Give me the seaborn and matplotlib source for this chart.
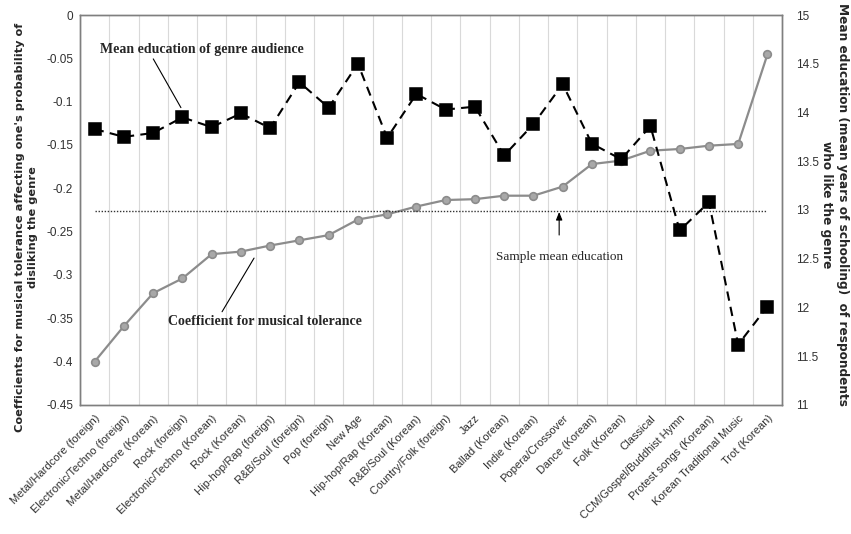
"""Musical tolerance coefficients vs. mean education of genre audience."""

import numpy as np
import pandas as pd
import seaborn as sns
import matplotlib.pyplot as plt

genres = [
    "Metal/Hardcore (foreign)", "Electronic/Techno (foreign)", "Metal/Hardcore (Korean)",
    "Rock (foreign)", "Electronic/Techno (Korean)", "Rock (Korean)",
    "Hip-hop/Rap (foreign)", "R&B/Soul (foreign)", "Pop (foreign)", "New Age",
    "Hip-hop/Rap (Korean)", "R&B/Soul (Korean)", "Country/Folk (foreign)", "Jazz",
    "Ballad (Korean)", "Indie (Korean)", "Popera/Crossover", "Dance (Korean)",
    "Folk (Korean)", "Classical", "CCM/Gospel/Buddhist Hymn", "Protest songs (Korean)",
    "Korean Traditional Music", "Trot (Korean)",
]
coef = [
    -0.400, -0.359, -0.321, -0.304, -0.276, -0.273, -0.266, -0.260, -0.254, -0.236,
    -0.230, -0.221, -0.2135, -0.2125, -0.2085, -0.2085, -0.198, -0.172, -0.168,
    -0.1566, -0.1546, -0.1508, -0.1488, -0.0454,
]
mean_edu = [
    13.83, 13.75, 13.79, 13.95, 13.85, 13.99, 13.84, 14.31, 14.05, 14.50, 13.74,
    14.19, 14.03, 14.06, 13.56, 13.88, 14.29, 13.68, 13.52, 13.86, 12.79, 13.08,
    11.62, 12.01,
]
sample_mean_edu = 12.99
left_ticks = [-0.45, -0.4, -0.35, -0.3, -0.25, -0.2, -0.15, -0.1, -0.05, 0]
right_ticks = [11, 11.5, 12, 12.5, 13, 13.5, 14, 14.5, 15]

df = pd.DataFrame({"genre": genres, "coef": coef, "edu": mean_edu})

sns.set_style("white")
plt.rcParams["font.family"] = ["Liberation Sans", "DejaVu Sans"]

fig = plt.figure(figsize=(8.51, 5.34), dpi=100)
ax = fig.add_axes([0.094, 0.2416, 0.825, 0.7303])
ax2 = ax.twinx()

sns.pointplot(data=df, x="genre", y="coef", order=genres, errorbar=None,
              color="#8c8c8c", markers="o", linestyles="-", ax=ax,
              markersize=5.5, linewidth=1.6,
              markerfacecolor="#a8a8a8", markeredgecolor="#8c8c8c")
sns.pointplot(data=df, x="genre", y="edu", order=genres, errorbar=None,
              color="black", markers="s", linestyles=(0, (4.5, 3)), ax=ax2,
              markersize=8, linewidth=1.5)

# sample mean education (dotted)
ax2.plot([0, len(genres) - 1], [sample_mean_edu] * 2, ls=(0, (1, 1.2)),
         color="#333333", lw=1, zorder=1)

ax.set_xlim(-0.5, len(genres) - 0.5)
ax.set_ylim(-0.45, 0)
ax2.set_ylim(11, 15)
ax.set_yticks(left_ticks)
ax.set_yticklabels([f"{v:g}" for v in left_ticks])
ax2.set_yticks(right_ticks)
ax2.set_yticklabels([f"{v:g}" for v in right_ticks])

# vertical gridlines every half category
ax.set_xticks(np.arange(-0.5, len(genres), 0.5), minor=True)
ax.grid(True, which="minor", axis="x", color="#d9d9d9", lw=0.8)
ax.grid(False, which="major")
ax2.grid(False)
ax.set_axisbelow(True)

ax.set_xticks(range(len(genres)))
ax.set_xticklabels(genres, rotation=45, ha="right", rotation_mode="anchor",
                   fontsize=8, color="#303030")
ax.tick_params(axis="x", which="both", length=0, pad=6)
ax.tick_params(axis="y", length=0, labelsize=8.5, colors="#303030", pad=5)
ax2.tick_params(axis="y", length=0, labelsize=8.5, colors="#303030", pad=10)
ax.set_xlabel("")
ax2.set_xlabel("")

for a in (ax, ax2):
    for s in a.spines.values():
        s.set_color("#7f7f7f")
        s.set_linewidth(1)

ax.set_ylabel("Coefficients for musical tolerance affecting one's probability of\n"
              "disliking the genre", fontsize=8.2, fontweight="bold",
              family=["DejaVu Sans"], linespacing=1.4, va="center")
ax.yaxis.set_label_coords(-0.076, 0.455)
ax2.set_ylabel("Mean education (mean years of schooling)  of respondents\n"
               "who like the genre", fontsize=8.7, fontweight="bold", rotation=270,
               family=["DejaVu Sans"], linespacing=1.35, va="center")
ax2.yaxis.set_label_coords(1.0745, 0.513)

serif = ["Liberation Serif", "DejaVu Serif"]
ax2.annotate("Mean education of genre audience", xy=(2.95, 14.05), xytext=(0.2, 14.65),
             fontsize=10, fontweight="bold", family=serif, va="center",
             arrowprops=dict(arrowstyle="-", color="black", lw=0.8,
                             shrinkA=0, shrinkB=0, relpos=(0.25, 0)))
ax.annotate("Coefficient for musical tolerance", xy=(5.45, -0.2805),
            xytext=(2.5, -0.3537), fontsize=10, fontweight="bold", family=serif,
            va="center",
            arrowprops=dict(arrowstyle="-", color="black", lw=0.8,
                            shrinkA=0, shrinkB=0, relpos=(0.27, 1)))
ax2.annotate("Sample mean education", xy=(15.88, 12.98), xytext=(15.88, 12.52),
             fontsize=9.5, family=serif, ha="center", va="center",
             arrowprops=dict(arrowstyle="-|>,head_length=0.5,head_width=0.2",
                             color="black", lw=0.8, shrinkA=9, shrinkB=0))

fig.savefig("out.png", dpi=100)
